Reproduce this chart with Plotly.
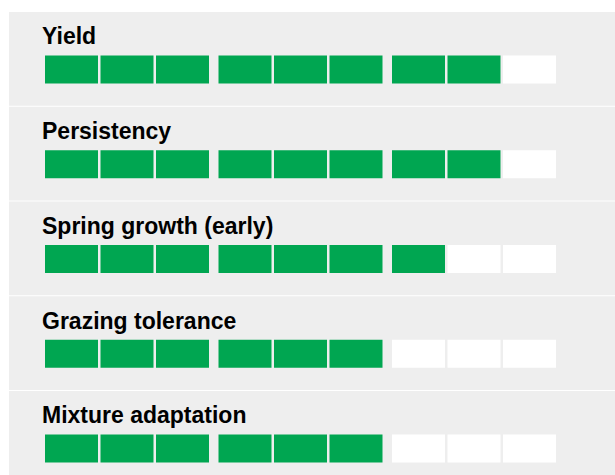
import plotly.graph_objects as go
from plotly.subplots import make_subplots

# ---- data ----
traits = ["Yield", "Persistency", "Spring growth (early)", "Grazing tolerance", "Mixture adaptation"]
scores = [8, 8, 7, 6, 6]
max_score = 9
group_size = 3

# ---- style / layout constants (pixels) ----
W, H = 615, 475
ML, MT = 9, 12
GREEN = "#00A651"
EMPTY = "#FFFFFF"
PANEL = "#EEEEEE"
PITCH_PX = 55.5
CELL_W = 53 / PITCH_PX
GROUP_GAP = 7 / PITCH_PX
FIRST_CENTER_PX = 71.5
PANEL_PITCH = 94.75
PANEL_H = 93.75
BAR_TOP = 43.5
BAR_PX = 28
TITLE_CENTER = 24.4
TITLE_LEFT_PX = 41

n = len(traits)
fig = make_subplots(rows=n, cols=1, vertical_spacing=0.01)
plot_h = H - MT

x_lo = (ML - FIRST_CENTER_PX) / PITCH_PX
x_hi = (W - FIRST_CENTER_PX) / PITCH_PX

cell_idx = list(range(max_score))
cell_x = [i + (i // group_size) * GROUP_GAP for i in cell_idx]

for k, (name, sc) in enumerate(zip(traits, scores)):
    row = k + 1
    colors = [GREEN if i < sc else EMPTY for i in cell_idx]
    fig.add_trace(
        go.Bar(
            x=cell_x,
            y=[1] * max_score,
            base=0,
            width=CELL_W,
            marker=dict(color=colors, line=dict(width=0)),
            hoverinfo="skip",
            showlegend=False,
        ),
        row=row, col=1,
    )
    top = MT + PANEL_PITCH * k
    bot = min(top + PANEL_H, H)
    h = bot - top
    dom = [(H - bot) / plot_h, (H - top) / plot_h]
    y_top = 1 + BAR_TOP / BAR_PX
    y_bot = -(h - BAR_TOP - BAR_PX) / BAR_PX
    fig.update_yaxes(domain=dom, range=[y_bot, y_top], visible=False,
                     fixedrange=True, row=row, col=1)
    fig.update_xaxes(range=[x_lo, x_hi], visible=False, fixedrange=True,
                     row=row, col=1)
    sfx = "" if row == 1 else str(row)
    fig.add_annotation(
        text=name,
        xref="x" + sfx, yref="y" + sfx,
        x=(TITLE_LEFT_PX - FIRST_CENTER_PX) / PITCH_PX,
        y=1 + (BAR_TOP - TITLE_CENTER) / BAR_PX,
        xanchor="left", yanchor="middle",
        showarrow=False,
        borderpad=0,
        font=dict(family="Liberation Sans, Arial, sans-serif", size=23,
                  color="#000000", weight="bold"),
    )

fig.update_layout(
    width=W, height=H,
    margin=dict(l=ML, r=0, t=MT, b=0, pad=0),
    paper_bgcolor="#FFFFFF",
    plot_bgcolor=PANEL,
    barmode="overlay",
    showlegend=False,
    hovermode=False,
)

fig.write_html(
    "out.html",
    include_plotlyjs=True,
    config={"displayModeBar": False, "staticPlot": True},
    post_script=(
        "document.documentElement.style.margin='0';"
        "document.body.style.margin='0';"
        "document.documentElement.style.overflow='hidden';"
        "document.body.style.overflow='hidden';"
    ),
)
